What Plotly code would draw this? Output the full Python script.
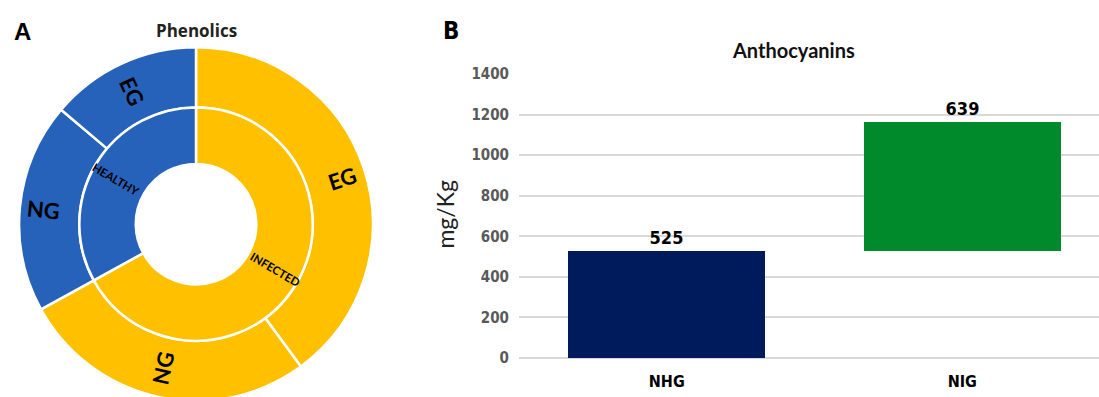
import math
import plotly.graph_objects as go

# ---- Phenolics (two-level donut) ----
group_labels = ["HEALTHY", "INFECTED"]
sub_labels = ["EG", "NG", "NG", "EG"]
sub_parent = [0, 0, 1, 1]           # index into group_labels
sub_values = [13.8, 19.2, 27.1, 39.9]

# ---- Anthocyanins (floating bars) ----
antho_categories = ["NHG", "NIG"]
antho_values = [525, 639]
y_ticks = [0, 200, 400, 600, 800, 1000, 1200, 1400]

BLUE = "#2662BA"
GOLD = "#FFC000"
group_colors = [BLUE, GOLD]

W, H = 1099, 410


def px_x(x):
    return x / W


def px_y(y):
    return (H - y) / H


group_values = [sum(v for v, p in zip(sub_values, sub_parent) if p == i)
                for i in range(len(group_labels))]
sub_colors = [group_colors[p] for p in sub_parent]

# donut geometry (pixels)
cx, cy = 196, 225
r_outer, r_mid, r_hole = 185, 122, 63

# slices are laid out clockwise from 12 o'clock, so feed them in reverse
# order to get HEALTHY on the left going counterclockwise
rev = slice(None, None, -1)

fig = go.Figure()

fig.add_trace(go.Pie(
    labels=[f"{l} {i}" for i, l in enumerate(sub_labels)][rev],
    text=sub_labels[rev],
    values=sub_values[rev],
    sort=False,
    direction="clockwise",
    rotation=0,
    hole=r_mid / r_outer,
    marker=dict(colors=sub_colors[rev], line=dict(color="white", width=2.5)),
    textinfo="none",
    domain=dict(x=[px_x(cx - r_outer), px_x(cx + r_outer)],
                y=[px_y(cy + r_outer), px_y(cy - r_outer)]),
    showlegend=False,
    hoverinfo="text+value",
))

fig.add_trace(go.Pie(
    labels=group_labels[rev],
    values=group_values[rev],
    sort=False,
    direction="clockwise",
    rotation=0,
    hole=r_hole / r_mid,
    marker=dict(colors=group_colors[rev], line=dict(color="white", width=2.5)),
    textinfo="none",
    domain=dict(x=[px_x(cx - r_mid), px_x(cx + r_mid)],
                y=[px_y(cy + r_mid), px_y(cy - r_mid)]),
    showlegend=False,
    hoverinfo="label+value",
))


def ring_labels(labels, values, r_in, r_out, size):
    """Radial slice labels placed at each slice's mid-angle (counterclockwise from 12)."""
    total = sum(values)
    out = []
    start = 0.0
    for lab, v in zip(labels, values):
        mid_ccw = (start + v / 2) / total * 360.0
        start += v
        theta = 360.0 - mid_ccw              # clockwise angle from 12 o'clock
        r = (r_in + r_out) / 2
        x = cx + r * math.sin(math.radians(theta))
        y = cy - r * math.cos(math.radians(theta))
        angle = theta - 270 if theta > 180 else theta - 90
        out.append(dict(
            text=lab, x=px_x(x), y=px_y(y), xref="paper", yref="paper",
            showarrow=False, xanchor="center", yanchor="middle", textangle=angle,
            font=dict(family="Lato, Open Sans, sans-serif", size=size,
                      color="black", weight="bold"),
        ))
    return out


slice_annotations = (ring_labels(sub_labels, sub_values, r_mid, r_outer, 22)
                     + ring_labels(group_labels, group_values, r_hole, r_mid, 11.5))

# floating bars: each bar starts where the previous one ended
bases = [sum(antho_values[:i]) for i in range(len(antho_values))]
fig.add_trace(go.Bar(
    x=antho_categories,
    y=antho_values,
    base=bases,
    width=0.667,
    marker=dict(color=["#001B5C", "#008A2B"], line=dict(width=0)),
    text=[str(v) for v in antho_values],
    textposition="outside",
    textfont=dict(family="DejaVu Sans Condensed, Liberation Sans, sans-serif",
                  size=18, color="black", weight="bold"),
    cliponaxis=False,
    showlegend=False,
    xaxis="x", yaxis="y",
))

plot_left, plot_bottom, plot_top = 519, 365, 68
band = 295.5
narrow = "DejaVu Sans Condensed, Liberation Sans, sans-serif"

fig.update_layout(
    width=W, height=H,
    margin=dict(l=0, r=0, t=0, b=0),
    paper_bgcolor="white",
    plot_bgcolor="white",
    bargap=0,
    xaxis=dict(
        domain=[px_x(plot_left), 1.0],
        range=[-0.5, -0.5 + (W - plot_left) / band],
        showgrid=False, zeroline=False, showline=False,
        ticks="", ticklabelstandoff=12,
        tickfont=dict(family=narrow, size=16, color="black", weight="bold"),
        fixedrange=True,
    ),
    yaxis=dict(
        domain=[px_y(plot_bottom), px_y(plot_top)],
        range=[0, 1400],
        tickvals=y_ticks,
        showgrid=True, gridcolor="#D9D9D9", gridwidth=1.5,
        zeroline=True, zerolinecolor="#D9D9D9", zerolinewidth=1.5,
        showline=False, ticks="", ticklabelstandoff=9,
        tickfont=dict(family=narrow, size=15, color="#595959", weight="bold"),
        fixedrange=True,
    ),
    annotations=slice_annotations + [
        dict(text="A", x=px_x(22), y=px_y(24), xref="paper", yref="paper",
             showarrow=False, xanchor="center", yanchor="middle",
             font=dict(family="Liberation Sans, Arial, sans-serif", size=24, color="black", weight="bold")),
        dict(text="Phenolics", x=px_x(196), y=px_y(22), xref="paper", yref="paper",
             showarrow=False, xanchor="center", yanchor="middle",
             font=dict(family="Open Sans, sans-serif", size=17, color="#222222", weight="bold")),
        dict(text="B", x=px_x(451), y=px_y(23), xref="paper", yref="paper",
             showarrow=False, xanchor="center", yanchor="middle",
             font=dict(family=narrow, size=24, color="black", weight="bold")),
        dict(text="Anthocyanins", x=px_x(793), y=px_y(43), xref="paper", yref="paper",
             showarrow=False, xanchor="center", yanchor="middle",
             font=dict(family="Lato, sans-serif", size=20, color="#111111", weight="bold")),
        dict(text="mg/Kg", x=px_x(445), y=px_y(215), xref="paper", yref="paper",
             showarrow=False, xanchor="center", yanchor="middle", textangle=-90,
             font=dict(family="Lato, sans-serif", size=23, color="#222222")),
    ],
)

fig.write_html(
    "out.html",
    config={"displayModeBar": False},
    post_script="document.documentElement.style.overflow='hidden';"
                "document.body.style.overflow='hidden';",
)
